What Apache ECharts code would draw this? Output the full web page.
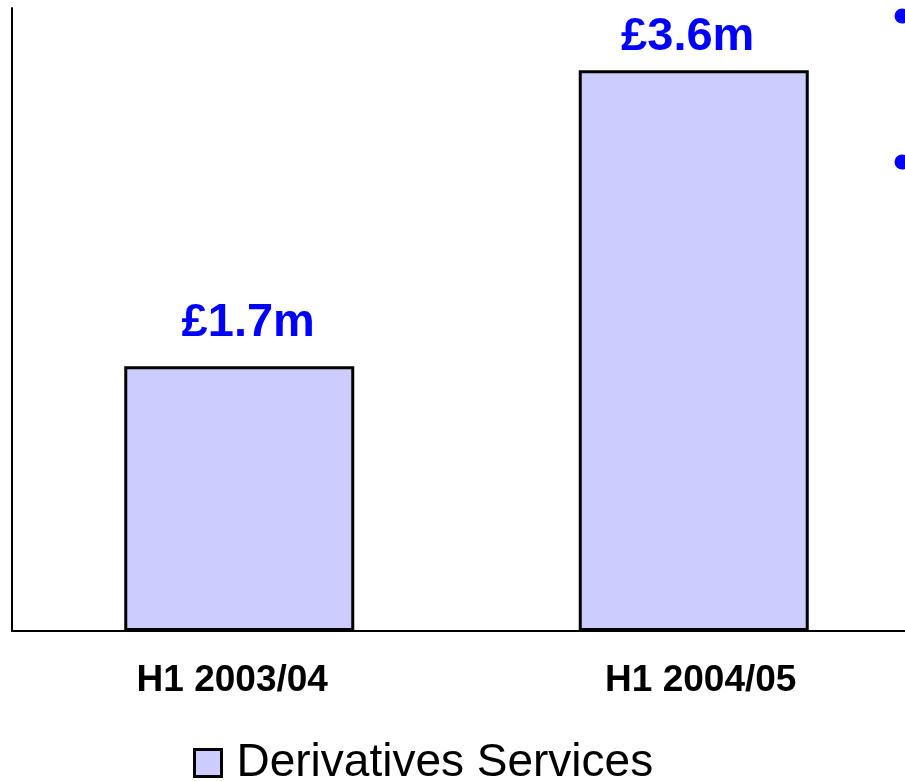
<!DOCTYPE html>
<html>
<head>
<meta charset="utf-8">
<script src="https://cdn.jsdelivr.net/npm/echarts@6/dist/echarts.min.js"></script>
<style>
  html, body { margin: 0; padding: 0; background: #ffffff; }
  #chart { width: 905px; height: 781px; }
</style>
</head>
<body>
<div id="chart"></div>
<script>
// Half-year revenue, Derivatives Services (£ millions)
const categories = ['H1 2003/04', 'H1 2004/05'];
const seriesName = 'Derivatives Services';
const revenue = [1.7, 3.6];
const valueLabels = ['£1.7m', '£3.6m'];

// hand-placed nudges for the value labels and the category labels
const valueLabelOffsets = [[9, 1], [-6, 11]];
const categoryLabelPadding = [[0, 14, 0, 0], [0, 0, 0, 14]];

const FONT = '"Liberation Sans", Arial, sans-serif';

const catLabelStyle = { fontFamily: FONT, fontSize: 37, fontWeight: 'bold', color: '#000000' };
const catRich = {};
categoryLabelPadding.forEach((pad, i) => {
  catRich['c' + i] = Object.assign({ padding: pad }, catLabelStyle);
});

const chart = echarts.init(document.getElementById('chart'), null, { renderer: 'canvas' });

chart.setOption({
  backgroundColor: '#ffffff',
  animation: false,
  // plot area runs past the right edge of the canvas
  grid: { left: 12, width: 909, top: 8, bottom: 150, outerBoundsMode: 'none', containLabel: false },
  legend: {
    data: [seriesName],
    left: 188,
    top: 735,
    icon: 'rect',
    itemWidth: 27,
    itemHeight: 27,
    itemGap: 10,
    textStyle: { fontFamily: FONT, fontSize: 46, color: '#000000', padding: [0, 0, 0, 10] },
    itemStyle: { borderColor: '#000000', borderWidth: 3 }
  },
  xAxis: {
    type: 'category',
    data: categories,
    axisLine: { show: true, lineStyle: { color: '#000000', width: 2 } },
    axisTick: { show: false },
    axisLabel: Object.assign({
      margin: 31,
      formatter: (v, i) => '{c' + i + '|' + v + '}',
      rich: catRich
    }, catLabelStyle)
  },
  yAxis: {
    type: 'value',
    min: 0,
    max: 4,
    axisLine: { show: true, lineStyle: { color: '#000000', width: 2 } },
    axisTick: { show: false },
    axisLabel: { show: false },
    splitLine: { show: false }
  },
  series: [{
    name: seriesName,
    type: 'bar',
    data: revenue.map((v, i) => ({ value: v, label: { offset: valueLabelOffsets[i] } })),
    barWidth: 230,
    itemStyle: { color: '#ccccff', borderColor: '#000000', borderWidth: 3 },
    label: {
      show: true,
      position: 'top',
      distance: 21,
      formatter: (p) => valueLabels[p.dataIndex],
      fontFamily: FONT,
      fontSize: 47,
      fontWeight: 'bold',
      color: '#0000ff'
    }
  }],
  // Bullet points of the neighbouring text column, cut off at the right edge
  graphic: [
    { type: 'circle', shape: { cx: 902, cy: 16, r: 7.5 }, style: { fill: '#0000ff' } },
    { type: 'circle', shape: { cx: 902, cy: 162, r: 7.5 }, style: { fill: '#0000ff' } }
  ]
});
</script>
</body>
</html>
